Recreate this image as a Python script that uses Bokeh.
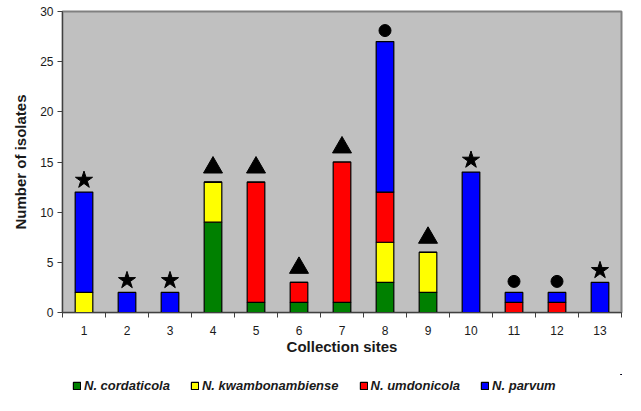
from bokeh.plotting import figure
from bokeh.layouts import column
from bokeh.models import FixedTicker, Legend, LegendItem, ColumnDataSource, Range1d
from bokeh.embed import file_html
from bokeh.resources import INLINE

sites = list(range(1, 14))
site_labels = [str(s) for s in sites]
cordaticola = [0, 0, 0, 9, 1, 1, 1, 3, 2, 0, 0, 0, 0]
kwambonambiense = [2, 0, 0, 4, 0, 0, 0, 4, 4, 0, 0, 0, 0]
umdonicola = [0, 0, 0, 0, 12, 2, 14, 5, 0, 0, 1, 1, 0]
parvum = [10, 2, 2, 0, 0, 0, 0, 15, 0, 14, 1, 1, 3]
site_marker = ["star", "star", "star", "triangle", "triangle", "triangle", "triangle",
               "circle", "triangle", "star", "circle", "circle", "star"]
species = ["N. cordaticola", "N. kwambonambiense", "N. umdonicola", "N. parvum"]
colors = ["#008000", "#FFFF00", "#FF0000", "#0000FF"]
y_ticks = [0, 5, 10, 15, 20, 25, 30]

FONT = "Liberation Sans"
TXT = "#1a1a1a"

p = figure(frame_width=559, frame_height=301, output_backend="svg", toolbar_location=None,
           x_range=Range1d(0.5, 13.5), y_range=Range1d(0, 30),
           min_border_left=62, min_border_top=11, min_border_right=4, min_border_bottom=62)
p.background_fill_color = "#C0C0C0"
p.border_fill_color = "white"
p.outline_line_color = "#808080"
p.outline_line_width = 2
p.grid.visible = False

keys = ["c", "k", "u", "p"]
src = ColumnDataSource(dict(x=sites, c=cordaticola, k=kwambonambiense, u=umdonicola, p=parvum))
rs = p.vbar_stack(keys, x="x", width=0.41, source=src, fill_color=colors,
                  line_color="black", line_width=1.2)

totals = [a + b + c + d for a, b, c, d in zip(cordaticola, kwambonambiense, umdonicola, parvum)]
offset = {"star": 1.2, "triangle": 1.45, "circle": 1.1}
size = {"star": 18, "triangle": 19, "circle": 12}
for m in ["star", "triangle", "circle"]:
    xs = [s for s, mk in zip(sites, site_marker) if mk == m]
    ys = [t + offset[m] for t, mk in zip(totals, site_marker) if mk == m]
    p.scatter(xs, ys, marker=m, size=size[m], fill_color="black", line_color="black")

# axes
xa = p.xaxis[0]
xa.ticker = FixedTicker(ticks=sites, minor_ticks=[s + 0.5 for s in range(0, 14)])
xa.major_label_overrides = {s: l for s, l in zip(sites, site_labels)}
xa.major_tick_out = 0
xa.major_tick_in = 0
xa.minor_tick_out = 5
xa.minor_tick_in = 0
xa.minor_tick_line_color = "#404040"
xa.axis_line_color = "#404040"
xa.major_label_standoff = 8
xa.major_label_text_font = FONT
xa.major_label_text_font_size = "12px"
xa.major_label_text_color = TXT
xa.axis_label = "Collection sites"
xa.axis_label_text_font = FONT
xa.axis_label_text_font_size = "15px"
xa.axis_label_text_font_style = "bold"
xa.axis_label_text_color = TXT
xa.axis_label_standoff = 0

ya = p.yaxis[0]
ya.ticker = FixedTicker(ticks=y_ticks, minor_ticks=[])
ya.major_tick_out = 5
ya.major_tick_in = 0
ya.major_tick_line_color = "#404040"
ya.axis_line_color = "#404040"
ya.major_label_standoff = 4
ya.major_label_text_font = FONT
ya.major_label_text_font_size = "12px"
ya.major_label_text_color = TXT
ya.axis_label = "Number of isolates"
ya.axis_label_text_font = FONT
ya.axis_label_text_font_size = "15px"
ya.axis_label_text_font_style = "bold"
ya.axis_label_text_color = TXT
ya.axis_label_standoff = 8

# legend strip (separate figure below the chart; its bars lie outside its view)
lg = figure(width=625, height=22, output_backend="svg", toolbar_location=None,
            x_axis_type=None, y_axis_type=None, min_border=0,
            x_range=Range1d(-3, -2), y_range=Range1d(-3, -2))
lg.outline_line_color = None
lg.grid.visible = False
lg_rs = lg.vbar_stack(keys, x="x", width=0.41, source=src, fill_color=colors,
                      line_color="black", line_width=1.2)

legend = Legend(items=[LegendItem(label=s, renderers=[r]) for s, r in zip(species, lg_rs)],
                orientation="horizontal", location=(10, 3))
legend.label_text_font = FONT
legend.label_text_font_size = "13px"
legend.label_text_font_style = "bold italic"
legend.label_text_color = TXT
legend.glyph_width = 9
legend.glyph_height = 9
legend.label_standoff = 3
legend.spacing = 20
legend.padding = 0
legend.margin = 0
legend.label_height = 14
legend.border_line_alpha = 0
legend.background_fill_alpha = 0
lg.add_layout(legend, "center")

layout = column(p, lg, spacing=0)
open("out.html", "w").write(file_html(layout, INLINE))
